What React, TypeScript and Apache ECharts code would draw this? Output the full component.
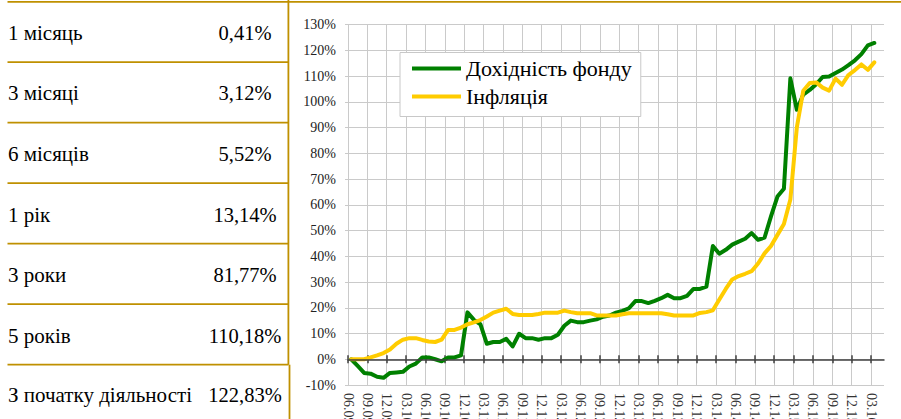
import React, { useEffect, useRef } from 'react';
import * as echarts from 'echarts';

const periods = ['1 місяць', '3 місяці', '6 місяців', '1 рік', '3 роки', '5 років', 'З початку діяльності'];
const periodReturns = ['0,41%', '3,12%', '5,52%', '13,14%', '81,77%', '110,18%', '122,83%'];

const months = (
  '06.09 07.09 08.09 09.09 10.09 11.09 12.09 ' +
  '01.10 02.10 03.10 04.10 05.10 06.10 07.10 08.10 09.10 10.10 11.10 12.10 ' +
  '01.11 02.11 03.11 04.11 05.11 06.11 07.11 08.11 09.11 10.11 11.11 12.11 ' +
  '01.12 02.12 03.12 04.12 05.12 06.12 07.12 08.12 09.12 10.12 11.12 12.12 ' +
  '01.13 02.13 03.13 04.13 05.13 06.13 07.13 08.13 09.13 10.13 11.13 12.13 ' +
  '01.14 02.14 03.14 04.14 05.14 06.14 07.14 08.14 09.14 10.14 11.14 12.14 ' +
  '01.15 02.15 03.15 04.15 05.15 06.15 07.15 08.15 09.15 10.15 11.15 12.15 ' +
  '01.16 02.16 03.16 04.16 05.16'
).split(' ');

const fundReturn = [
  0, -2.6, -5.3, -5.6, -6.8, -7.2, -5.3, -5.1, -4.9, -2.8,
  -1.7, 0.7, 0.7, 0.0, -0.8, 0.7, 0.7, 1.5, 18.2, 15.3,
  13.6, 6.0, 6.7, 6.7, 7.9, 5.0, 9.9, 8.2, 8.2, 7.6,
  8.2, 8.2, 9.5, 13.0, 15.0, 14.4, 14.4, 15.0, 15.5, 16.5,
  17.0, 18.1, 18.8, 19.8, 22.6, 22.6, 21.8, 22.7, 23.7, 25.0,
  23.7, 23.7, 24.6, 27.3, 27.3, 28.2, 44.0, 41.0, 42.5, 44.5,
  45.7, 46.8, 49.0, 46.4, 47.2, 55.5, 63.2, 66.2, 109.1, 96.9,
  102.8, 104.6, 106.8, 109.6, 109.8, 111.2, 112.5, 114.2, 116.1, 118.5,
  121.9, 122.83,
];

const inflation = [
  0, 0, 0, 0.7, 1.5, 2.4, 3.8, 6.0, 7.6, 8.2,
  8.2, 7.5, 6.9, 6.7, 7.6, 11.4, 11.4, 12.3, 13.6, 14.3,
  15.2, 16.6, 18.1, 18.9, 19.6, 17.6, 17.2, 17.2, 17.2, 17.6,
  18.1, 18.1, 18.1, 18.9, 18.3, 17.9, 17.9, 17.9, 17.0, 17.0,
  17.0, 17.0, 17.5, 17.9, 17.9, 17.9, 17.9, 17.9, 17.9, 17.5,
  17.0, 17.0, 17.0, 17.0, 18.0, 18.3, 19.0, 23.2, 27.3, 31.0,
  32.3, 33.2, 34.2, 37.2, 41.1, 44.0, 48.3, 52.5, 62.0, 90.0,
  104.3, 107.3, 107.5, 105.5, 104.3, 109.0, 106.6, 110.4, 112.3, 114.5,
  112.4, 115.3,
];

const seriesNames = ['Дохідність фонду', 'Інфляція'];

const SERIF = 'Liberation Serif';
const GOLD = '#BF9000';

export default function App() {
  const ref = useRef<HTMLDivElement>(null);

  useEffect(() => {
    if (!ref.current) return;
    const chart = echarts.init(ref.current, undefined, { renderer: 'svg' });

    const bandMonths = months.slice(0, months.length - 1);

    const rowLineYs = [62.2, 122.7, 183.2, 243.7, 304.2, 364.7];
    const rowTextYs = [32.7, 93, 154, 215, 275, 336, 395];

    const graphic: any[] = [];
    graphic.push({
      type: 'line', silent: true,
      shape: { x1: 7.5, y1: 1.8, x2: 901, y2: 1.8 },
      style: { stroke: GOLD, lineWidth: 1.8 },
    });
    rowLineYs.forEach((y) => {
      graphic.push({
        type: 'line', silent: true,
        shape: { x1: 7.5, y1: y, x2: 288.5, y2: y },
        style: { stroke: GOLD, lineWidth: 1.8 },
      });
    });
    graphic.push({
      type: 'line', silent: true,
      shape: { x1: 288.4, y1: 0, x2: 288.4, y2: 364.7 },
      style: { stroke: GOLD, lineWidth: 1.8 },
    });
    graphic.push({
      type: 'line', silent: true,
      shape: { x1: 289.5, y1: 364.7, x2: 289.5, y2: 419 },
      style: { stroke: GOLD, lineWidth: 1.8 },
    });
    periods.forEach((p, i) => {
      graphic.push({
        type: 'text', silent: true, x: 8, y: rowTextYs[i],
        style: {
          text: p, fill: '#000', fontSize: 21, fontFamily: SERIF,
          textAlign: 'left', textVerticalAlign: 'middle',
        },
      });
      graphic.push({
        type: 'text', silent: true, x: 245, y: rowTextYs[i],
        style: {
          text: periodReturns[i], fill: '#000', fontSize: 20.5, fontFamily: SERIF,
          textAlign: 'center', textVerticalAlign: 'middle',
        },
      });
    });

    const tickAxisBase = {
      type: 'category',
      data: months,
      boundaryGap: false,
      axisLine: { show: false, onZero: true, onZeroAxisIndex: 0 },
      axisTick: { show: true, interval: 2, length: 4, lineStyle: { color: '#404040', width: 1.5 } },
      axisLabel: { show: false },
      splitLine: { show: false },
    };

    chart.setOption({
      animation: false,
      backgroundColor: '#fff',
      textStyle: { fontFamily: SERIF },
      grid: { left: 348, right: 17, top: 24.5, height: 360.5, outerBoundsMode: 'none', containLabel: false },
      legend: {
        data: seriesNames,
        orient: 'vertical',
        left: 400,
        top: 52.5,
        padding: [5, 9, 9, 12],
        itemGap: 6,
        itemWidth: 49,
        itemHeight: 4,
        icon: 'rect',
        backgroundColor: '#fff',
        borderColor: '#c8c8c8',
        borderWidth: 1,
        textStyle: { fontSize: 22, fontFamily: SERIF, color: '#000' },
      },
      xAxis: [
        {
          type: 'category',
          data: bandMonths,
          boundaryGap: true,
          position: 'bottom',
          axisLine: { show: true, onZero: true, onZeroAxisIndex: 0, lineStyle: { color: '#404040', width: 1.5 } },
          axisTick: { show: false },
          axisLabel: { show: false },
          splitLine: { show: false },
          z: 5,
        },
        { ...tickAxisBase, position: 'bottom' },
        { ...tickAxisBase, position: 'top' },
        {
          type: 'category',
          data: months,
          boundaryGap: false,
          position: 'bottom',
          axisLine: { show: false, onZero: false },
          axisTick: { show: false, interval: 2 },
          axisLabel: {
            interval: 2, rotate: -90, margin: 8,
            fontSize: 14, fontFamily: SERIF, color: '#333',
          },
          splitLine: { show: true, interval: 2, lineStyle: { color: '#cacaca', width: 1 } },
        },
      ],
      yAxis: {
        type: 'value',
        min: -10,
        max: 130,
        interval: 10,
        axisLine: { show: false },
        axisTick: { show: true, length: 3, lineStyle: { color: '#cacaca' } },
        axisLabel: {
          formatter: '{value}%', margin: 12,
          fontSize: 14, fontFamily: SERIF, color: '#222',
        },
        splitLine: { show: true, lineStyle: { color: '#cacaca', width: 1 } },
      },
      series: [
        {
          name: seriesNames[0],
          type: 'line',
          xAxisIndex: 0,
          yAxisIndex: 0,
          data: fundReturn,
          showSymbol: false,
          symbol: 'none',
          color: '#008000',
          lineStyle: { width: 4, color: '#008000', join: 'round', cap: 'round' },
          z: 3,
        },
        {
          name: seriesNames[1],
          type: 'line',
          xAxisIndex: 0,
          yAxisIndex: 0,
          data: inflation,
          showSymbol: false,
          symbol: 'none',
          color: '#FFCC00',
          lineStyle: { width: 4, color: '#FFCC00', join: 'round', cap: 'round' },
          z: 4,
        },
      ],
      graphic,
    });

    return () => chart.dispose();
  }, []);

  return (
    <div
      ref={ref}
      style={{ position: 'absolute', left: 0, top: 0, width: 901, height: 419, background: '#fff' }}
    />
  );
}
